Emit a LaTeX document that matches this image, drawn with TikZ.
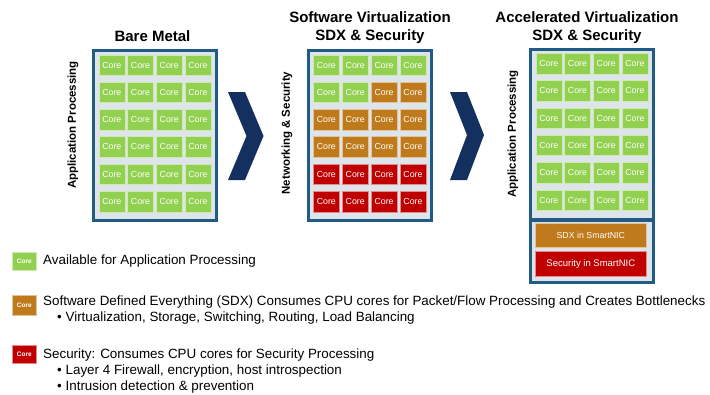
\documentclass[tikz,border=0pt]{standalone}
\usepackage{fontspec}
\setmainfont{Liberation Sans}
\definecolor{frameblue}{HTML}{1F5B85}
\definecolor{framebg}{HTML}{DDE4EA}
\definecolor{chevblue}{HTML}{13305E}
\definecolor{coreg}{HTML}{92D050}
\definecolor{coreo}{HTML}{BF7A1B}
\definecolor{corer}{HTML}{C00000}
\begin{document}
\begin{tikzpicture}[x=1pt,y=-1pt,
  core/.style={draw=white!55!#1, line width=0.6pt, fill=#1, minimum width=26pt, minimum height=20.5pt,
    inner sep=0pt, text=white, font=\fontsize{8.8}{9}\selectfont, anchor=north west},
  frame/.style={draw=frameblue, line width=2.5pt, fill=framebg, inner sep=0pt, anchor=north west,
    minimum width=123pt},
  bar/.style={draw=white!55!#1, line width=0.6pt, fill=#1, minimum width=111pt, inner sep=0pt,
    text=white, anchor=north west},
  title/.style={font=\bfseries\fontsize{15}{18}\selectfont, align=center, inner sep=0pt},
  side/.style={font=\bfseries\fontsize{11.5}{13}\selectfont, rotate=90, inner sep=0pt},
  legend/.style={font=\fontsize{13.4}{15}\selectfont, anchor=west, inner sep=0pt},
  legbox/.style={fill=#1, draw=white!55!#1, line width=0.5pt, minimum width=24pt, minimum height=18pt,
    inner sep=0pt, text=white, font=\fontsize{6.5}{7}\selectfont\bfseries, anchor=north west},
  chev/.style={fill=chevblue}]
\useasboundingbox (0,0) rectangle (710,394);
\fill[white] (0,0) rectangle (710,394);

% titles
\node[title] (t1) at (152.5,36) {Bare Metal};
\node[title] (t2) at (370,28) {Software Virtualization\\SDX \& Security};
\node[title] (t3) at (587,28) {Accelerated Virtualization\\SDX \& Security};

% side labels
\node[side] (s1) at (73,125) {Application Processing};
\node[side] (s2) at (287,133) {Networking \& Security};
\node[side] (s3) at (513,134) {Application Processing};

% frames
\node[frame, minimum height=170pt] (F1) at (92,49) {};
\node[frame, minimum height=170pt] (F2) at (307,49) {};
\node[frame, minimum height=170pt] (F3) at (529,48) {};
\node[frame, minimum height=62pt] (F4) at (529,219) {};

% cores
\foreach \i in {0,...,23}{
  \pgfmathtruncatemacro\row{int(\i/4)}
  \pgfmathtruncatemacro\col{mod(\i,4)}
  \node[core=coreg] (A\i) at (92+6.5+\col*28.7, 49+5.5+\row*27.3) {Core};
  \node[core=coreg] (C\i) at (529+6.5+\col*28.7, 48+5+\row*27.3) {Core};
}
\foreach \c [count=\i from 0] in {g,g,g,g,g,g,o,o,o,o,o,o,o,o,o,o,r,r,r,r,r,r,r,r}{
  \pgfmathtruncatemacro\row{int(\i/4)}
  \pgfmathtruncatemacro\col{mod(\i,4)}
  \node[core=core\c] (B\i) at (307+6+\col*28.9, 49+5.5+\row*27.3) {Core};
}

% smartnic bars
\node[bar=coreo, minimum height=24pt, font=\fontsize{8.8}{9}\selectfont] (sdx) at (535,223) {SDX in SmartNIC};
\node[bar=corer, minimum height=25pt, font=\fontsize{9.5}{10}\selectfont] (sec) at (535,251) {Security in SmartNIC};

% chevrons
\fill[chev] (228,92) -- (245,92) -- (263.5,136) -- (245,180) -- (228,180) -- (246.5,136) -- cycle;
\fill[chev] (450,92) -- (467,92) -- (484,135) -- (467,180) -- (450,180) -- (467,135) -- cycle;

% legend
\node[legbox=coreg] (lg) at (12,252) {Core};
\node[legbox=coreo, minimum height=20pt] (lo) at (12,295) {Core};
\node[legbox=corer] (lr) at (12,345) {Core};

\node[legend] (l1) at (43,261) {Available for Application Processing};
\node[legend] (l2) at (43,302) {Software Defined Everything (SDX) Consumes CPU cores for Packet/Flow Processing and Creates Bottlenecks};
\node[legend] (l3) at (57,318) {• Virtualization, Storage, Switching, Routing, Load Balancing};
\node[legend] (l4) at (43,355) {Security: Consumes CPU cores for Security Processing};
\node[legend] (l5) at (57,371) {• Layer 4 Firewall, encryption, host introspection};
\node[legend] (l6) at (57,387) {• Intrusion detection \& prevention};
\end{tikzpicture}
\end{document}
